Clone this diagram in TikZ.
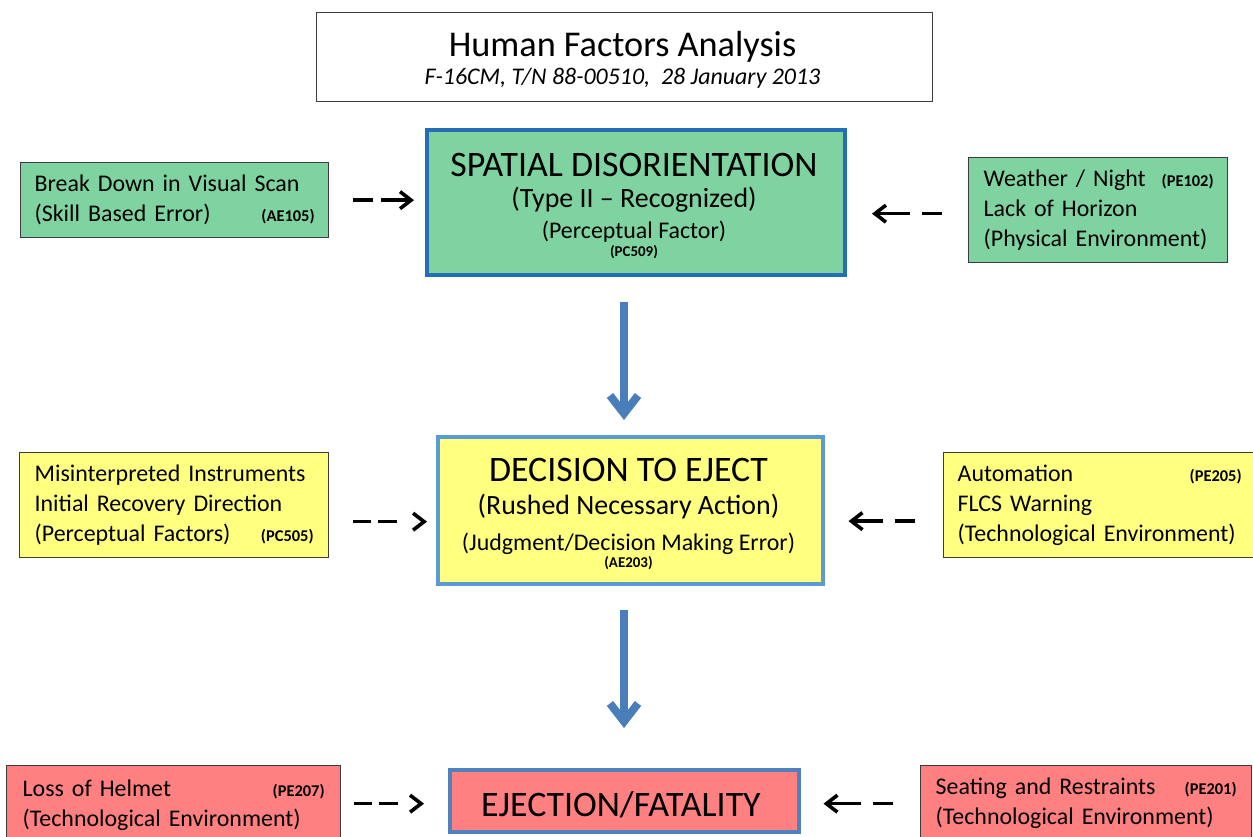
\documentclass[tikz,border=0pt]{standalone}
\usepackage{fontspec}
\setmainfont{Carlito}
\usetikzlibrary{arrows.meta}
\definecolor{boxgreen}{RGB}{126,211,161}
\definecolor{boxyellow}{RGB}{255,255,128}
\definecolor{boxred}{RGB}{255,128,128}
\definecolor{arrowblue}{RGB}{74,126,187}
\definecolor{sdborder}{RGB}{36,110,180}
\definecolor{decborder}{RGB}{91,155,213}
\definecolor{ejborder}{RGB}{79,129,189}
\definecolor{boxline}{RGB}{60,60,60}
\newcommand\fsz[2]{\fontsize{#1}{#2}\selectfont}
\newcommand\code[1]{{\fsz{16.5}{16}\bfseries #1}}
\begin{document}
\begin{tikzpicture}[x=1bp,y=-1bp,
  bigbox/.style={draw, line width=3.5bp, inner sep=0pt, anchor=north west},
  smallbox/.style={draw=boxline, line width=1.3bp, inner ysep=0pt, align=left,
    font=\fsz{24}{30}, anchor=north west},
  titlebox/.style={draw=boxline, line width=1.3bp, fill=white, inner sep=0pt, anchor=north west},
  head/.style={anchor=base, font=\fsz{36}{36}},
  sub/.style={anchor=base, font=\fsz{28}{28}},
  subsub/.style={anchor=base, font=\fsz{24}{24}},
  codeline/.style={anchor=base, font=\fsz{15}{15}\bfseries},
  bluearrow/.style={draw=arrowblue, line width=8bp, -{Straight Barb[length=18bp,width=28bp]}},
  dashto/.style={line width=3.6bp, dash pattern=on 18bp off 7bp on 19bp off 200bp,
    -{Straight Barb[length=11bp,width=17bp]}},
  dashshaft/.style={line width=3.6bp, dash pattern=on 20bp off 8bp on 200bp,
    -{Straight Barb[length=11bp,width=17bp]}},
  dashfrom/.style={line width=3.6bp, dash pattern=on 20bp off 12bp on 200bp,
    -{Straight Barb[length=11bp,width=17bp]}}
]
\useasboundingbox (0,0) rectangle (1253,837);
\clip (0,0) rectangle (1253,837);
\fill[white] (0,0) rectangle (1253,837);
\coordinate (axis) at (624,0);

% title
\node[titlebox, minimum width=616bp, minimum height=89bp] (title) at (316,12) {};
\node[anchor=base, font=\fsz{36.4}{36}] (titleA) at (622.5,56) {Human Factors Analysis};
\node[anchor=base, font=\fsz{24}{24}\itshape] (titleB) at (622.5,84) {F-16CM, T/N 88-00510,\ \ 28 January 2013};

% spatial disorientation
\node[bigbox, draw=sdborder, fill=boxgreen, line width=4bp, minimum width=418bp, minimum height=145bp] (sd) at (425,128) {};
\node[head] (sdA) at (634,176) {SPATIAL DISORIENTATION};
\node[sub] (sdB) at (634,207) {(Type II – Recognized)};
\node[subsub] (sdC) at (634,238) {(Perceptual Factor)};
\node[codeline] (sdD) at (634,256) {(PC509)};

% decision
\node[bigbox, draw=decborder, fill=boxyellow, minimum width=385bp, minimum height=147bp] (dec) at (436,435) {};
\node[head] (decA) at (628.5,481) {DECISION TO EJECT};
\node[sub] (decB) at (628.5,514) {(Rushed Necessary Action)};
\node[subsub] (decC) at (628.5,550) {(Judgment/Decision Making Error)};
\node[codeline] (decD) at (628.5,567) {(AE203)};

% ejection
\node[bigbox, draw=ejborder, fill=boxred, minimum width=349bp, minimum height=62bp] (ej) at (448,768) {};
\node[head] (ejA) at (621,816) {EJECTION/FATALITY};

% side boxes
\node[smallbox, fill=boxgreen, inner xsep=14bp, text width=280bp, minimum height=75bp] (scan) at (20,162)
  {Break Down in Visual Scan\\(Skill Based Error)\hfill\code{(AE105)}\hspace*{7bp}};
\node[smallbox, fill=boxgreen, inner xsep=15bp, text width=229bp, minimum height=105bp] (wx) at (968,157)
  {\mbox{Weather / Night\ \ \code{(PE102)}}\\Lack of Horizon\\(Physical Environment)};
\node[smallbox, fill=boxyellow, inner xsep=15bp, text width=279bp, minimum height=105bp] (mis) at (19,452)
  {Misinterpreted Instruments\\Initial Recovery Direction\\(Perceptual Factors)\hfill\code{(PC505)}\hspace*{5bp}};
\node[smallbox, fill=boxyellow, inner xsep=14bp, text width=284bp, minimum height=105bp] (auto) at (943,452)
  {Automation\hfill\code{(PE205)}\\FLCS Warning\\(Technological Environment)};
\node[smallbox, fill=boxred, inner xsep=16bp, text width=302bp, minimum height=79bp] (loss) at (6,765)
  {Loss of Helmet\hfill\code{(PE207)}\hspace*{2bp}\\(Technological Environment)};
\node[smallbox, fill=boxred, inner xsep=15bp, text width=301bp, minimum height=75bp] (seat) at (920,765)
  {Seating and Restraints\hfill\code{(PE201)}\hspace*{3bp}\\(Technological Environment)};

% main flow
\draw[bluearrow, shorten <=25bp, shorten >=15bp] (sd.south -| axis) -- (dec.north -| axis);
\draw[bluearrow, shorten <=24bp, shorten >=40bp] (dec.south -| axis) -- (ej.north -| axis);

% contributing factors
\draw[dashshaft, shorten <=23.5bp, shorten >=11bp] (scan.east) -- (scan.east -| sd.west);
\draw[dashfrom, shorten <=26bp, shorten >=25bp] ([yshift=-3.5bp]wx.west) -- ([yshift=-3.5bp]wx.west -| sd.east);
\draw[dashto, shorten <=24bp, shorten >=9bp] ([yshift=-16.5bp]mis.west -| mis.east) -- ([yshift=-16.5bp]mis.west -| dec.west);
\draw[dashfrom, shorten <=28bp, shorten >=24bp] ([yshift=-16bp]auto.west) -- ([yshift=-16bp]auto.west -| dec.east);
\draw[dashto, shorten <=13bp, shorten >=24bp] ([yshift=1.5bp]loss.east) -- ([yshift=1.5bp]loss.east -| ej.west);
\draw[dashfrom, shorten <=27bp, shorten >=23bp] ([yshift=-0.5bp]seat.west) -- ([yshift=-0.5bp]seat.west -| ej.east);
\end{tikzpicture}
\end{document}
